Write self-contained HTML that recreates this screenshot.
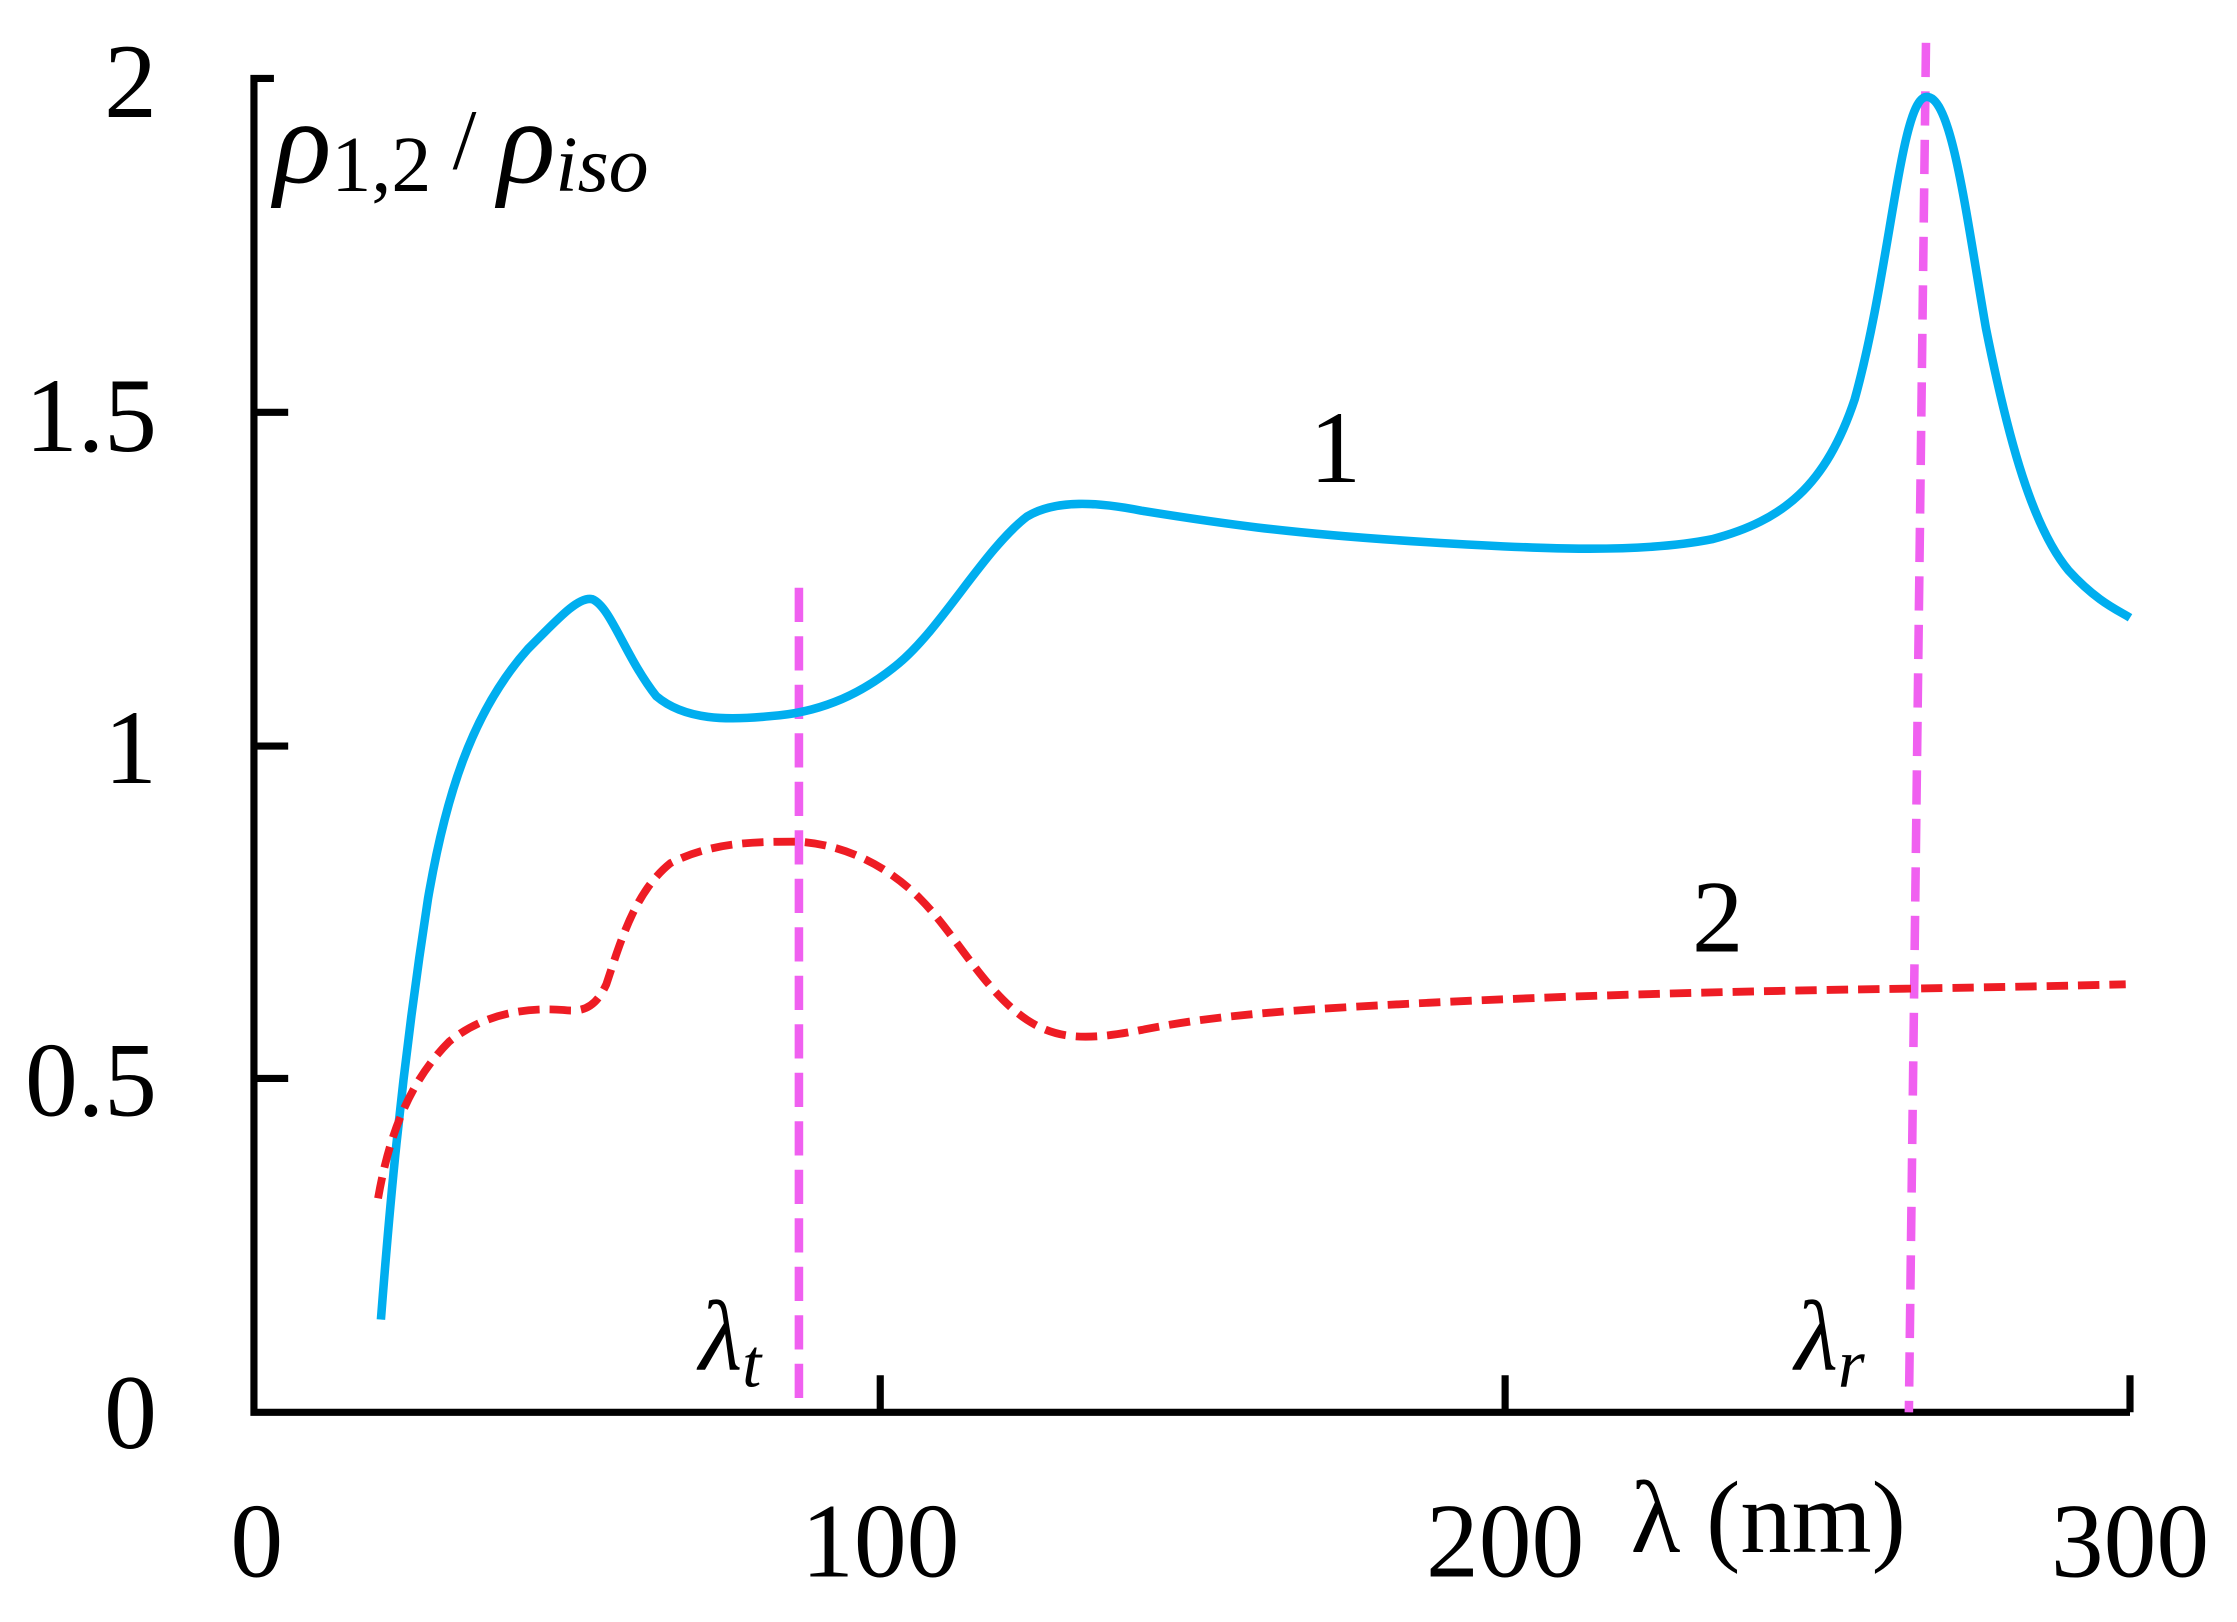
<!DOCTYPE html>
<html><head><meta charset="utf-8"><style>
html,body{margin:0;padding:0;background:#fff;}
svg{display:block;}
text{font-family:"Liberation Serif",serif;fill:#000;}
</style></head><body>
<svg width="2237" height="1622" viewBox="0 0 1568 1137" preserveAspectRatio="none" xmlns="http://www.w3.org/2000/svg">
<rect width="1568" height="1137" fill="#fff"/>
<path d="M192,55 H178 V990 H1493" fill="none" stroke="#000" stroke-width="5"/>
<path d="M178,289 H202 M178,523 H202 M178,756 H202 M617,990 V964 M1055,990 V964 M1493,990 V964" stroke="#000" stroke-width="5"/>
<g font-size="74" text-anchor="end">
<text x="110" y="82">2</text>
<text x="110" y="316">1.5</text>
<text x="110" y="549">1</text>
<text x="110" y="782">0.5</text>
<text x="110" y="1015">0</text>
</g>
<g font-size="74" text-anchor="middle">
<text x="180" y="1105">0</text>
<text x="617" y="1105">100</text>
<text x="1055" y="1105">200</text>
<text x="1493" y="1105">300</text>
</g>
<text x="1143" y="1088" font-size="72">λ (nm)</text>
<text x="192" y="128" font-size="84" font-style="italic">ρ<tspan font-size="56" font-style="normal" dy="6">1,2</tspan><tspan dy="-16" font-size="60" font-style="normal"> / </tspan><tspan dy="10">ρ</tspan><tspan font-size="56" dy="6">iso</tspan></text>
<text x="918" y="338" font-size="72">1</text>
<text x="1186" y="667" font-size="72">2</text>
<text x="490" y="960" font-size="70" font-style="italic">λ<tspan font-size="48" dy="12">t</tspan></text>
<text x="1258" y="960" font-size="70" font-style="italic">λ<tspan font-size="48" dy="12">r</tspan></text>
<path d="M560,412 V990 M1350,30 L1338,990" stroke="#f060f0" stroke-width="6" stroke-dasharray="24,10" fill="none"/>
<path d="M267,925 C272,860 280,760 300,630 C312,560 330,500 370,455 C390,435 405,418 415,420 C428,425 438,460 460,488 C480,505 510,505 540,502 C570,500 600,490 630,465 C660,440 690,385 720,362 C740,350 770,352 800,358 C850,366 900,374 1000,380 C1080,385 1150,388 1200,378 C1250,365 1280,340 1300,280 C1325,190 1332,70 1350,68 C1368,66 1378,150 1392,230 C1408,310 1425,370 1450,400 C1470,422 1485,428 1493,433" fill="none" stroke="#00aeef" stroke-width="6"/>
<path d="M265,840 C272,800 285,760 315,730 C340,710 370,706 395,708 C410,710 418,705 425,690 C435,660 445,625 470,605 C500,590 530,590 560,590 C590,592 620,605 645,630 C670,655 690,695 720,715 C740,728 760,730 800,722 C850,712 900,708 1000,703 C1100,698 1200,695 1340,693 C1400,692 1450,691 1490,690" fill="none" stroke="#ee1c24" stroke-width="5.5" stroke-dasharray="15,7"/>
</svg>
</body></html>
